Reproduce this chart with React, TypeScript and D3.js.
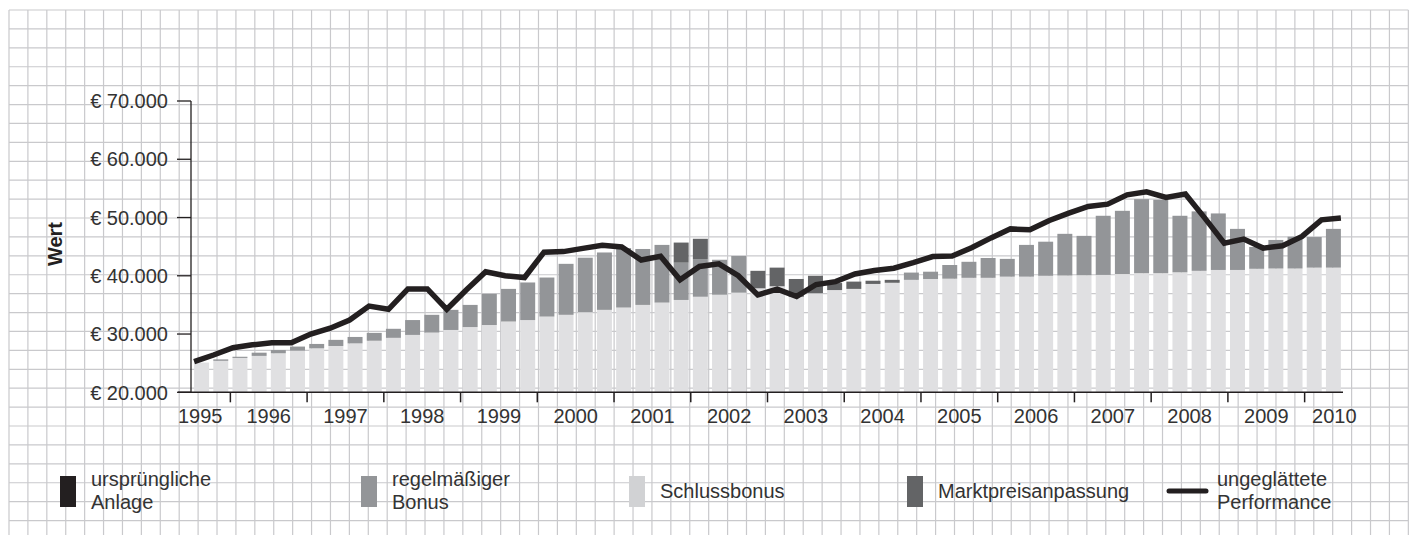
import React from 'react';
import * as d3 from 'd3';

// ---------- DATA ----------
const years = [1995, 1996, 1997, 1998, 1999, 2000, 2001, 2002, 2003, 2004, 2005, 2006, 2007, 2008, 2009, 2010];
const quartersPerYear = [2, 4, 4, 4, 4, 4, 4, 4, 4, 4, 4, 4, 4, 4, 4, 2];
const firstQuarter = [3, 1, 1, 1, 1, 1, 1, 1, 1, 1, 1, 1, 1, 1, 1, 1];

// quarter categories
const categories: { year: number; q: number; label: string }[] = [];
years.forEach((yr, i) => {
  for (let k = 0; k < quartersPerYear[i]; k++) {
    const q = firstQuarter[i] + k;
    categories.push({ year: yr, q, label: `${yr} Q${q}` });
  }
});

// ursprüngliche Anlage (below the visible axis range)
const anlage = [
  20000, 20000, 20000, 20000, 20000, 20000, 20000, 20000, 20000, 20000,
  20000, 20000, 20000, 20000, 20000, 20000, 20000, 20000, 20000, 20000,
  20000, 20000, 20000, 20000, 20000, 20000, 20000, 20000, 20000, 20000,
  20000, 20000, 20000, 20000, 20000, 20000, 20000, 20000, 20000, 20000,
  20000, 20000, 20000, 20000, 20000, 20000, 20000, 20000, 20000, 20000,
  20000, 20000, 20000, 20000, 20000, 20000, 20000, 20000, 20000, 20000,
];

const schlussbonus = [
  5100, 5400, 5900, 6250, 6700, 7150, 7550, 7950, 8400, 8850,
  9350, 9850, 10250, 10700, 11200, 11550, 12150, 12400, 13000, 13300,
  13750, 14150, 14550, 15000, 15400, 15850, 16400, 16750, 17100, 17850,
  18200, 16400, 17000, 17550, 17750, 18600, 18800, 19300, 19450, 19500,
  19650, 19650, 19850, 19850, 20000, 20050, 20100, 20150, 20300, 20450,
  20450, 20600, 20850, 21000, 21000, 21200, 21250, 21250, 21400, 21400,
];

const regelBonus = [
  0, 250, 200, 550, 550, 700, 750, 1050, 1100, 1350,
  1550, 2550, 3050, 3450, 3800, 5350, 5600, 6450, 6700, 8750,
  9350, 9850, 10200, 9600, 9900, 6400, 6400, 6000, 6300, 0,
  0, 0, 0, 0, 0, 0, 0, 1250, 1250, 2350,
  2750, 3400, 3050, 5450, 5850, 7150, 6750, 10150, 10850, 12700,
  12600, 9700, 10200, 9700, 7050, 3750, 4900, 5450, 5250, 6650,
];

const marktpreis = [
  0, 0, 0, 0, 0, 0, 0, 0, 0, 0,
  0, 0, 0, 0, 0, 0, 0, 0, 0, 0,
  0, 0, 0, 0, 0, 3450, 3550, 0, 0, 3000,
  3200, 3050, 3000, 1200, 1250, 550, 500, 0, 0, 0,
  0, 0, 0, 0, 0, 0, 0, 0, 0, 0,
  0, 0, 0, 0, 0, 0, 0, 0, 0, 0,
];

const performance = [
  25250, 26400, 27650, 28150, 28500, 28500, 30000, 31000, 32400, 34800,
  34250, 37750, 37750, 34250, 37550, 40700, 40000, 39700, 44050, 44150,
  44700, 45250, 44950, 42700, 43350, 39300, 41600, 42050, 40000, 36700,
  37700, 36450, 38500, 39000, 40300, 40900, 41300, 42250, 43300, 43400,
  44800, 46500, 48050, 47900, 49500, 50750, 51900, 52300, 53900, 54400,
  53450, 54050, 49900, 45600, 46300, 44750, 45150, 46750, 49600, 49900,
];

const yTicks = [20000, 30000, 40000, 50000, 60000, 70000];

const seriesKeys = ['anlage', 'schlussbonus', 'bonus', 'markt'];
const seriesColors: Record<string, string> = {
  anlage: '#231f20',
  schlussbonus: '#e0e0e2',
  bonus: '#939598',
  markt: '#636466',
};

const legendItems = [
  { kind: 'rect', color: '#231f20', lines: ['ursprüngliche', 'Anlage'] },
  { kind: 'rect', color: '#939598', lines: ['regelmäßiger', 'Bonus'] },
  { kind: 'rect', color: '#d1d2d4', lines: ['Schlussbonus'] },
  { kind: 'rect', color: '#636466', lines: ['Marktpreisanpassung'] },
  { kind: 'line', color: '#231f20', lines: ['ungeglättete', 'Performance'] },
];

// ---------- LAYOUT ----------
const W = 1413;
const H = 535;
const FONT = '"Liberation Sans", Arial, Helvetica, sans-serif';
const TEXT = '#333333';
const AXIS = '#231f20';

const plotTop = 101;
const plotBottom = 392.3;
const yAxisX = 191;
const xRange: [number, number] = [192, 1343];
const xAxisStart = 178;

const gridX0 = 9;
const gridY0 = 10;
const gridStep = 18.91;
const gridCols = 75;
const gridRows = 28;

const legendX = [60, 361, 629, 907, 1167];

export default function App() {
  const y = d3.scaleLinear().domain([20000, 70000]).range([plotBottom, plotTop]);
  const x = d3
    .scaleBand<number>()
    .domain(categories.map((_, i) => i))
    .range(xRange)
    .paddingInner(0.22)
    .paddingOuter(0.11);
  const bw = x.bandwidth();
  const step = x.step();

  const table = categories.map((c, i) => ({
    i,
    anlage: anlage[i],
    schlussbonus: schlussbonus[i],
    bonus: regelBonus[i],
    markt: marktpreis[i],
  }));
  const stacked = d3.stack<any>().keys(seriesKeys)(table);

  const xLine = d3
    .scaleLinear()
    .domain([0, categories.length - 1])
    .range([x(0)!, x(categories.length - 1)! + bw]);
  const linePath = d3
    .line<number>()
    .x((_, i) => xLine(i))
    .y((d) => y(d))(performance);

  // year boundaries
  const yearStarts = years.map((yr) => categories.findIndex((c) => c.year === yr));
  const boundaryX = (idx: number) => xRange[0] + (x.paddingOuter() - x.paddingOuter()) * step + idx * step;

  const fmt = (v: number) => '€ ' + d3.format(',')(v).replace(/,/g, '.');

  const gridV = d3.range(gridCols).map((i) => gridX0 + i * gridStep);
  const gridH = d3.range(gridRows).map((j) => gridY0 + j * gridStep);
  const gridRight = gridV[gridV.length - 1];

  return (
    <svg
      width={W}
      height={H}
      style={{ position: 'absolute', left: 0, top: 0, background: '#fff' }}
      fontFamily={FONT}
    >
      <rect x={0} y={0} width={W} height={H} fill="#fff" />
      {/* grid */}
      <g stroke="#c9c9cc" strokeWidth={1.2}>
        {gridV.map((gx, i) => (
          <line key={'v' + i} x1={gx} x2={gx} y1={gridY0} y2={H} />
        ))}
        {gridH.map((gy, j) => (
          <line key={'h' + j} x1={gridX0} x2={gridRight} y1={gy} y2={gy} />
        ))}
      </g>

      <defs>
        <clipPath id="plotclip">
          <rect x={yAxisX} y={0} width={W} height={plotBottom} />
        </clipPath>
      </defs>

      {/* bars */}
      <g clipPath="url(#plotclip)">
        {stacked.map((s) => (
          <g key={s.key} fill={seriesColors[s.key]}>
            {s.map((d, i) => {
              const y0 = y(d[0]);
              const y1 = y(d[1]);
              const h = y0 - y1;
              if (h <= 0) return null;
              return <rect key={i} x={x(i)} y={y1} width={bw} height={h} />;
            })}
          </g>
        ))}
      </g>

      {/* line */}
      <path d={linePath!} fill="none" stroke="#231f20" strokeWidth={5.5} strokeLinejoin="miter" strokeLinecap="butt" />

      {/* y axis */}
      <g>
        <line x1={yAxisX} x2={yAxisX} y1={y(70000)} y2={plotBottom} stroke={AXIS} strokeWidth={1.3} />
        {yTicks.map((t) => (
          <g key={t}>
            <line x1={177} x2={yAxisX} y1={y(t)} y2={y(t)} stroke={AXIS} strokeWidth={1.3} />
            <text x={168} y={y(t)} dy="0.36em" textAnchor="end" fontSize={20} fill={TEXT}>
              {fmt(t)}
            </text>
          </g>
        ))}
        <text
          transform={`translate(${62},${244}) rotate(-90)`}
          textAnchor="middle"
          fontSize={20}
          fontWeight="bold"
          fill="#231f20"
        >
          Wert
        </text>
      </g>

      {/* x axis */}
      <g>
        <line x1={xAxisStart} x2={xRange[1]} y1={plotBottom} y2={plotBottom} stroke={AXIS} strokeWidth={1.5} />
        {yearStarts.map((si, i) => {
          if (i === 0) return null;
          const bx = boundaryX(si);
          return <line key={'t' + i} x1={bx} x2={bx} y1={plotBottom} y2={plotBottom + 10} stroke={AXIS} strokeWidth={1.5} />;
        })}
        {years.map((yr, i) => {
          const si = yearStarts[i];
          let lx: number;
          let anchor: 'start' | 'middle' = 'middle';
          if (i === 0) {
            lx = xAxisStart;
            anchor = 'start';
          } else if (quartersPerYear[i] < 4) {
            lx = boundaryX(si) + step * 1.55;
          } else {
            lx = boundaryX(si) + step * 2;
          }
          return (
            <text key={'yl' + yr} x={lx} y={422.5} textAnchor={anchor} fontSize={20} fill={TEXT}>
              {yr}
            </text>
          );
        })}
      </g>

      {/* legend */}
      <g>
        {legendItems.map((it, i) => {
          const lx = legendX[i];
          const textX = it.kind === 'line' ? lx + 50 : lx + (i === 2 || i === 3 ? 31 : 31);
          return (
            <g key={i}>
              {it.kind === 'rect' ? (
                <rect x={lx} y={476} width={16} height={31} fill={it.color} />
              ) : (
                <line x1={lx + 2} x2={lx + 39} y1={491} y2={491} stroke={it.color} strokeWidth={5} strokeLinecap="round" />
              )}
              {it.lines.length === 1 ? (
                <text x={textX} y={498} fontSize={20} fill={TEXT}>
                  {it.lines[0]}
                </text>
              ) : (
                it.lines.map((ln, k) => (
                  <text key={k} x={textX} y={485.5 + k * 23.5} fontSize={20} fill={TEXT}>
                    {ln}
                  </text>
                ))
              )}
            </g>
          );
        })}
      </g>
    </svg>
  );
}
